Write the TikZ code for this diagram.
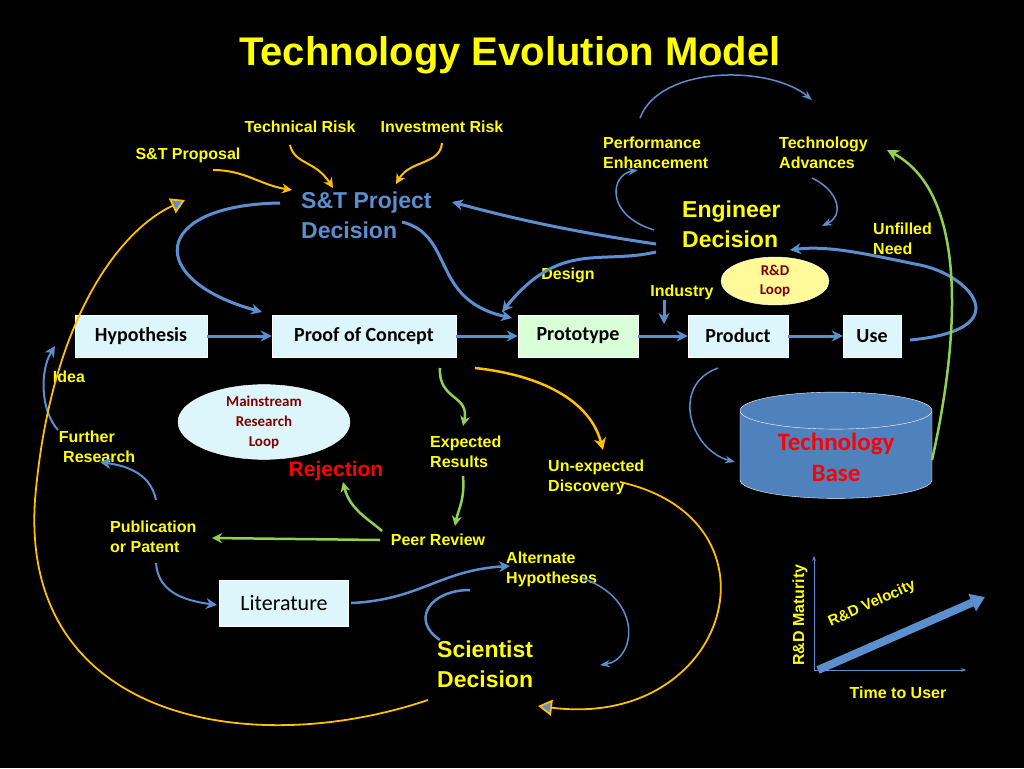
\documentclass[tikz,border=0pt]{standalone}
\usepackage{fontspec}
\setmainfont{Liberation Sans}
\newfontfamily\carl{Carlito}
\usetikzlibrary{arrows.meta,shapes.geometric}
\definecolor{yl}{HTML}{FFFF00}
\definecolor{bl}{HTML}{4F81BD}
\definecolor{bla}{HTML}{5B8FD0}
\definecolor{org}{HTML}{FFC000}
\definecolor{grn}{HTML}{92D050}
\definecolor{box}{HTML}{DDF6FB}
\tikzset{
 lbl/.style={text=yl,font=\bfseries\fontsize{16}{20}\selectfont,align=left,inner sep=0pt},
 big/.style={text=yl,font=\bfseries\fontsize{23}{30}\selectfont,align=left,inner sep=0pt},
 bx/.style={draw=white,fill=box,font=\carl\bfseries\fontsize{20}{22}\selectfont,minimum height=42pt,inner sep=0pt},
 barr/.style={bla,line width=3pt,-{Stealth[length=11pt,width=11pt]}},
 oarr/.style={org,line width=2pt,-{Stealth[length=10pt,width=10pt]}},
 garr/.style={grn,line width=2.5pt,-{Stealth[length=10pt,width=10pt]}},
 yarr/.style={org,line width=1.8pt,-{Triangle[open,length=14pt,width=16pt,fill=bla]}}
}
\begin{document}
\begin{tikzpicture}[x=1pt,y=-1pt]
\fill[black] (0,0) rectangle (1024,768);
\node[text=yl,font=\bfseries\fontsize{40}{44}\selectfont] (title) at (510,55) {Technology Evolution Model};
% boxes
\node[bx,minimum width=132pt] (hyp) at (141,336) {Hypothesis};
\node[bx,minimum width=184pt] (poc) at (364,336) {Proof of Concept};
\node[bx,minimum width=120pt,fill=green!15] (pro) at (578,336) {Prototype};
\node[bx,minimum width=100pt] (prd) at (738,336) {Product};
\node[bx,minimum width=58pt] (use) at (872,336) {Use};
\node[bx,minimum width=129pt,minimum height=46pt,font=\carl\fontsize{22}{24}\selectfont] (lit) at (284,603) {Literature};
% labels
\node[lbl] (trisk) at (300,127) {Technical Risk};
\node[lbl] (irisk) at (442,127) {Investment Risk};
\node[lbl] (stp) at (188,155) {S\&T Proposal};
\node[lbl,anchor=west] (perf) at (603,153) {Performance\\Enhancement};
\node[lbl,anchor=west] (tadv) at (779,153) {Technology\\Advances};
\node[big,text=bla,anchor=west] (stpd) at (301,215) {S\&T Project\\Decision};
\node[big,anchor=west] (eng) at (682,224) {Engineer\\Decision};
\node[lbl,anchor=west] (unf) at (873,239) {Unfilled\\Need};
\node[lbl] (des) at (568,275) {Design};
\node[lbl] (ind) at (682,292) {Industry};
\node[ellipse,fill=yellow!40,draw=white,minimum width=108pt,minimum height=48pt,text=red!50!black,font=\carl\bfseries\fontsize{15}{19}\selectfont,align=center,inner sep=0pt] (rdl) at (775,281) {R\&D\\Loop};
\node[lbl] (idea) at (69,377) {Idea};
\node[ellipse,fill=box,draw=white,minimum width=172pt,minimum height=66pt,text=red!50!black,font=\carl\bfseries\fontsize{15}{20}\selectfont,align=center,inner sep=0pt] (mrl) at (264,422) {Mainstream\\Research\\Loop};
\node[lbl] (fr) at (97,447) {Further\\\ Research};
\node[text=red,font=\bfseries\fontsize{21}{24}\selectfont,inner sep=0pt] (rej) at (336,471) {Rejection};
\node[lbl,anchor=west] (exp) at (430,452) {Expected\\Results};
\node[lbl,anchor=west] (unx) at (548,477) {Un-expected\\Discovery};
\node[cylinder,shape border rotate=90,aspect=0.3,draw=white,fill=bl,minimum width=192pt,minimum height=88pt,text=red,font=\carl\bfseries\fontsize{25}{31}\selectfont,align=center] (tb) at (836,457) {Technology\\Base};
\node[lbl,anchor=west] (pub) at (110,537) {Publication\\or Patent};
\node[lbl] (peer) at (438,540) {Peer Review};
\node[lbl,anchor=west] (alt) at (506,569) {Alternate\\Hypotheses};
\node[big,anchor=west] (sci) at (437,664) {Scientist\\Decision};
% blue box arrows
\draw[barr] (hyp) -- (poc);
\draw[barr] (poc) -- (pro);
\draw[barr] (pro) -- (prd);
\draw[barr] (prd) -- (use);
% axes
\coordinate (o) at (814,670);
\coordinate (ax) at (966,670);
\coordinate (ay) at (814,556);
\draw[bla,-{Stealth}] (o) -- (ax);
\draw[bla,-{Stealth}] (o) -- (ay);
\node[lbl,rotate=90] (mat) at (800,615) {R\&D Maturity};
\node[lbl] (ttu) at (898,693) {Time to User};
\node[lbl,rotate=24,font=\bfseries\fontsize{15}{18}\selectfont] (vel) at (872,604) {R\&D Velocity};
\coordinate (v1) at (818,670); \coordinate (v2) at (985,597);
\draw[bla,line width=8pt,-{Triangle[length=14pt,width=18pt]}] (v1) -- (v2);
% risk arrows
\draw[oarr] (290,145) .. controls (295,165) and (315,160) .. (333,188);
\draw[oarr] (442,143) .. controls (440,165) and (410,160) .. (396,184);
\draw[oarr] (213,170) .. controls (245,170) and (260,185) .. (292,190);
% S&T decision arrows
\draw[barr] (280,203) .. controls (150,205) and (145,280) .. (262,312);
\draw[barr] (402,222) .. controls (455,235) and (430,300) .. (512,318);
\draw[barr] (656,244) .. controls (560,230) and (500,215) .. (452,202);
\draw[barr] (656,252) .. controls (600,265) and (560,240) .. (502,312);
\draw[barr] (664,300) -- (664,324);
% engineer loop
\draw[bla,line width=1.5pt,-{Stealth[length=10pt]}] (640,118) .. controls (660,65) and (770,65) .. (812,100);
\draw[bla,line width=1.5pt,-{Stealth[length=10pt]}] (654,230) .. controls (605,215) and (610,175) .. (638,170);
\draw[bla,line width=1.5pt,-{Stealth[length=10pt]}] (812,178) .. controls (838,190) and (845,215) .. (822,226);
% unfilled need
\draw[barr] (910,340) .. controls (1020,330) and (970,275) .. (920,265) .. controls (870,255) and (830,245) .. (790,250);
% product to tech base
\draw[bla,line width=1.5pt,-{Stealth[length=10pt]}] (718,368) .. controls (670,385) and (690,450) .. (735,462);
% green unfilled arrow
\draw[grn,line width=2.5pt,-{Stealth[length=12pt,width=12pt]}] (932,460) .. controls (950,380) and (980,200) .. (887,150);
% green arrows
\draw[garr] (440,368) .. controls (438,400) and (470,395) .. (463,426);
\draw[garr] (463,476) .. controls (465,500) and (458,510) .. (455,526);
\draw[garr] (382,531) .. controls (370,520) and (350,510) .. (343,482);
\draw[garr] (380,540) -- (212,538);
% orange unexpected
\draw[org,line width=2.5pt,-{Stealth[length=12pt,width=12pt]}] (475,368) .. controls (540,375) and (590,400) .. (603,450);
% blue pub / further
\draw[barr,line width=2pt] (156,500) .. controls (150,470) and (120,465) .. (100,462);
\draw[barr,line width=2pt] (58,430) .. controls (40,410) and (40,370) .. (55,346);
\draw[barr,line width=2pt] (156,563) .. controls (158,590) and (180,600) .. (217,605);
% literature to alternate
\draw[barr,line width=2.5pt] (351,603) .. controls (420,600) and (440,570) .. (510,566);
\draw[bla,line width=1.5pt,-{Stealth[length=10pt]}] (582,578) .. controls (645,600) and (635,660) .. (600,665);
\draw[bla,line width=2.5pt] (440,640) .. controls (410,620) and (430,590) .. (470,590);
% big yellow loops
\draw[yarr] (428,700) .. controls (250,760) and (20,720) .. (35,500) .. controls (50,320) and (120,230) .. (185,200);
\draw[yarr] (620,482) .. controls (790,520) and (730,730) .. (538,706);
\end{tikzpicture}
\end{document}
